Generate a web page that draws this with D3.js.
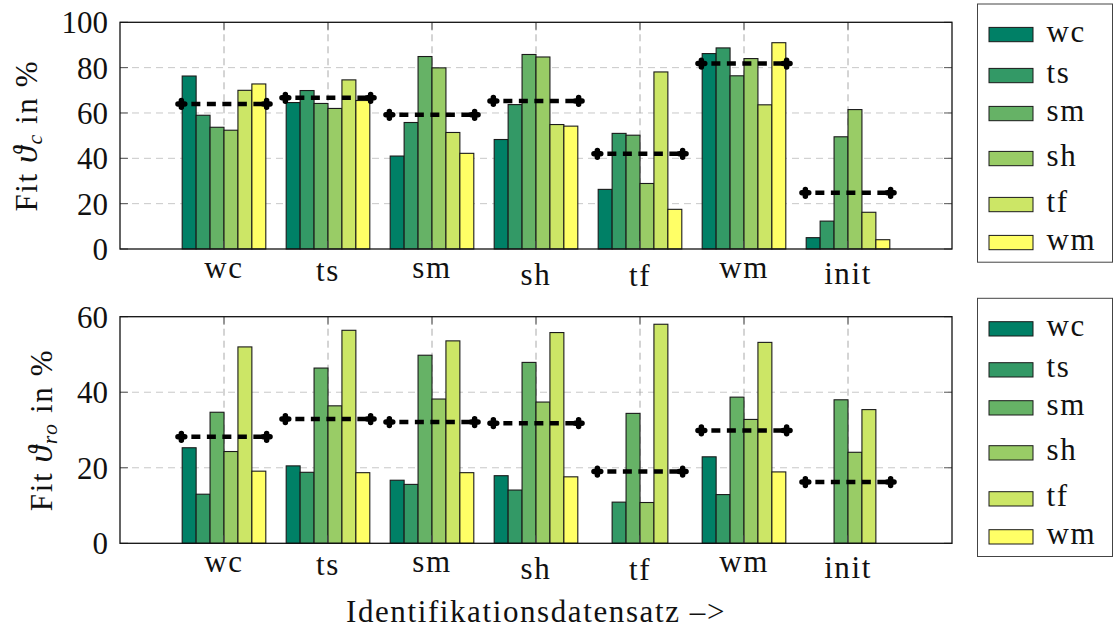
<!DOCTYPE html>
<html>
<head>
<meta charset="utf-8">
<script src="https://cdn.jsdelivr.net/npm/d3@7"></script>
<style>
  body { margin: 0; background: #fff; }
  svg { display: block; }
</style>
</head>
<body>
<div id="chart"></div>
<script>
// categories on the x axis and the bar series (identification data sets)
const categories = ["wc", "ts", "sm", "sh", "tf", "wm", "init"];
const seriesNames = ["wc", "ts", "sm", "sh", "tf", "wm"];
const seriesColors = ["#008066", "#339966", "#66b266", "#99cc66", "#cce666", "#ffff66"];

// Fit theta_c in % (top panel), one array per series
const cWc = [76.3, 64.6, 41.0, 48.3, 26.3, 86.2, 5.0];
const cTs = [59.0, 69.9, 55.8, 63.7, 51.0, 88.7, 12.3];
const cSm = [53.7, 64.2, 84.9, 85.8, 50.2, 76.4, 49.5];
const cSh = [52.4, 62.0, 79.9, 84.7, 28.9, 84.0, 61.5];
const cTf = [70.0, 74.6, 51.4, 54.9, 78.1, 63.6, 16.2];
const cWm = [72.8, 65.5, 42.2, 54.2, 17.5, 91.0, 4.1];
const cMean = [64.0, 66.7, 59.2, 65.3, 42.0, 81.8, 24.8];

// Fit theta_ro in % (bottom panel), null = no bar
const roWc = [25.3, 20.5, 16.7, 17.9, null, 22.9, null];
const roTs = [13.0, 18.8, 15.6, 14.1, 10.9, 12.9, null];
const roSm = [34.7, 46.4, 49.8, 47.9, 34.4, 38.7, 38.0];
const roSh = [24.3, 36.4, 38.2, 37.4, 10.8, 32.8, 24.1];
const roTf = [52.0, 56.4, 53.6, 55.8, 58.0, 53.2, 35.4];
const roWm = [19.1, 18.7, 18.7, 17.6, null, 18.9, null];
const roMean = [28.2, 32.9, 32.1, 31.8, 19.0, 29.9, 16.2];

const cTicks = [0, 20, 40, 60, 80, 100];
const roTicks = [0, 20, 40, 60];

const width = 1114, height = 632;
const fontSize = 31;
const fontFamily = '"Liberation Serif", "DejaVu Serif", serif';
const wordSpacing = 1.6;   // letter-spacing to get closer to the wider Palatino glyphs
const plotLeft = 120, plotRight = 952;

const svg = d3.select("#chart").append("svg")
    .attr("width", width)
    .attr("height", height)
    .attr("font-family", fontFamily)
    .attr("font-size", fontSize)
    .attr("fill", "#111");

// canvas used to read real glyph heights (labels are aligned by their ink top, like TeX boxes)
const ctx = document.createElement("canvas").getContext("2d");
ctx.font = `${fontSize}px "Liberation Serif"`;
function inkAscent(s) {
    return ctx.measureText(s).actualBoundingBoxAscent;
}

const x = d3.scaleLinear().domain([-1, 7]).range([plotLeft, plotRight]);
const inner = d3.scaleBand().domain(seriesNames).range([-0.402, 0.402]).padding(0);

function drawPanel(opts) {
    const g = svg.append("g");
    const y = d3.scaleLinear().domain([0, opts.max]).range([opts.bottom, opts.top]);

    // grid
    g.append("g").selectAll("line")
        .data(opts.ticks.slice(1, -1))
        .join("line")
        .attr("x1", plotLeft).attr("x2", plotRight)
        .attr("y1", d => y(d)).attr("y2", d => y(d))
        .attr("stroke", "#c8c8c8")
        .attr("stroke-width", 1)
        .attr("stroke-dasharray", "7,5");

    g.append("g").selectAll("line")
        .data(d3.range(categories.length))
        .join("line")
        .attr("x1", d => x(d)).attr("x2", d => x(d))
        .attr("y1", opts.top).attr("y2", opts.bottom)
        .attr("stroke", "#aaa")
        .attr("stroke-width", 1)
        .attr("stroke-dasharray", "7,5");

    // bars, series by series
    const bw = x(inner.bandwidth()) - x(0);
    opts.series.forEach((vals, si) => {
        g.append("g").selectAll("rect")
            .data(vals.map((v, ci) => ({ v: v, ci: ci })).filter(d => d.v !== null))
            .join("rect")
            .attr("x", d => x(d.ci + inner(seriesNames[si])))
            .attr("width", bw)
            .attr("y", d => y(d.v))
            .attr("height", d => y(0) - y(d.v))
            .attr("fill", seriesColors[si])
            .attr("stroke", "#1a1a1a")
            .attr("stroke-width", 1.1);
    });

    // mean line per category: dashed, with a bold plus at each end
    const meanG = g.append("g");
    opts.mean.forEach((m, ci) => {
        const x0 = x(ci - 0.41), x1 = x(ci + 0.41), yy = y(m);
        meanG.append("line")
            .attr("x1", x0 + 10).attr("x2", x1 - 4)
            .attr("y1", yy).attr("y2", yy)
            .attr("stroke", "#000")
            .attr("stroke-width", 4.5)
            .attr("stroke-dasharray", "9,6.5");
        [x0, x1].forEach(px => {
            meanG.append("path")
                .attr("d", `M${px - 3.4},${yy}H${px + 3.4}M${px},${yy - 3.4}V${yy + 3.4}`)
                .attr("stroke", "#000")
                .attr("stroke-width", 5.5)
                .attr("stroke-linecap", "round")
                .attr("fill", "none");
        });
    });

    // ticks inside on all sides
    const tk = g.append("g").attr("stroke", "#555").attr("stroke-width", 1);
    opts.ticks.forEach(t => {
        tk.append("line").attr("x1", plotLeft).attr("x2", plotLeft + 8).attr("y1", y(t)).attr("y2", y(t));
        tk.append("line").attr("x1", plotRight).attr("x2", plotRight - 8).attr("y1", y(t)).attr("y2", y(t));
    });
    d3.range(categories.length).forEach(i => {
        tk.append("line").attr("x1", x(i)).attr("x2", x(i)).attr("y1", opts.top).attr("y2", opts.top + 8);
        tk.append("line").attr("x1", x(i)).attr("x2", x(i)).attr("y1", opts.bottom).attr("y2", opts.bottom - 8);
    });

    // frame
    g.append("rect")
        .attr("x", plotLeft).attr("y", opts.top)
        .attr("width", plotRight - plotLeft).attr("height", opts.bottom - opts.top)
        .attr("fill", "none")
        .attr("stroke", "#111")
        .attr("stroke-width", 1.3);

    // y tick labels
    const yAxis = g.append("g")
        .attr("transform", `translate(${plotLeft},0)`)
        .call(d3.axisLeft(y).tickValues(opts.ticks).tickSize(0).tickPadding(12))
        .attr("font-family", fontFamily)
        .attr("font-size", fontSize);
    yAxis.select(".domain").remove();
    yAxis.selectAll("text")
        .attr("dy", "0.34em")
        .attr("fill", "#111");

    // x tick labels, ink top aligned
    g.append("g").selectAll("text")
        .data(categories)
        .join("text")
        .attr("x", (d, i) => x(i))
        .attr("y", d => opts.bottom + 13.5 + inkAscent(d))
        .attr("text-anchor", "middle")
        .attr("letter-spacing", wordSpacing)
        .text(d => d);

    // y label
    const cy = (opts.top + opts.bottom) / 2;
    const lab = g.append("text")
        .attr("transform", `translate(${opts.labelX},${cy}) rotate(-90)`)
        .attr("text-anchor", "middle")
        .attr("letter-spacing", wordSpacing);
    lab.append("tspan").text("Fit ");
    lab.append("tspan").attr("font-style", "italic").attr("font-size", 34).text("ϑ");
    lab.append("tspan").attr("font-style", "italic").attr("font-size", 22).attr("dy", 5).text(opts.sub);
    lab.append("tspan").attr("dy", -5).text(" in %");

    // legend
    const lgTop = opts.legendTop;
    const lg = g.append("g");
    let base = lgTop + 22.7 + inkAscent(seriesNames[0]);
    const baselines = [];
    seriesNames.forEach((s, i) => {
        if (i > 0) base += 23 + inkAscent(s);
        baselines.push(base);
    });
    lg.append("rect")
        .attr("x", 977.5).attr("y", lgTop)
        .attr("width", 135).attr("height", baselines[baselines.length - 1] + 12.5 - lgTop)
        .attr("fill", "#fff")
        .attr("stroke", "#444")
        .attr("stroke-width", 1);
    seriesNames.forEach((s, i) => {
        lg.append("rect")
            .attr("x", 989).attr("y", baselines[i] - 14.3)
            .attr("width", 44).attr("height", 14.3)
            .attr("fill", seriesColors[i])
            .attr("stroke", "#1a1a1a")
            .attr("stroke-width", 1);
        lg.append("text")
            .attr("x", 1046.5).attr("y", baselines[i])
            .attr("letter-spacing", wordSpacing)
            .text(s);
    });
}

drawPanel({
    top: 22.3, bottom: 249, max: 100, ticks: cTicks,
    series: [cWc, cTs, cSm, cSh, cTf, cWm], mean: cMean,
    sub: "c", labelX: 36.5, legendTop: 4
});

drawPanel({
    top: 316.7, bottom: 543.3, max: 60, ticks: roTicks,
    series: [roWc, roTs, roSm, roSh, roTf, roWm], mean: roMean,
    sub: "ro", labelX: 51.5, legendTop: 298.3
});

svg.append("text")
    .attr("x", (plotLeft + plotRight) / 2)
    .attr("y", 621.5)
    .attr("text-anchor", "middle")
    .attr("letter-spacing", wordSpacing)
    .text("Identifikationsdatensatz –>");
</script>
</body>
</html>
